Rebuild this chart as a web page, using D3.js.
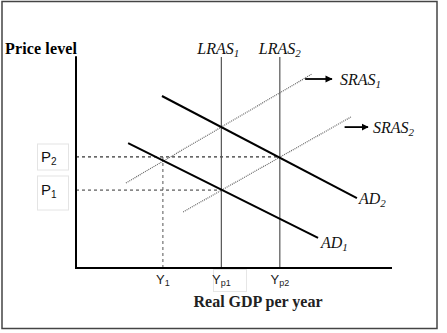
<!DOCTYPE html>
<html><head><meta charset="utf-8">
<script src="https://cdn.jsdelivr.net/npm/d3@7"></script>
<style>
body{margin:0;background:#fff;}
svg{display:block;}
.serif{font-family:"Liberation Serif","Times New Roman",serif;}
.sans{font-family:"Liberation Sans",Arial,sans-serif;}
</style></head>
<body>
<svg id="c" width="447" height="333"></svg>
<script>
// ---- data (abstract units: GDP 0-100, price 0-100) ----
const gdpLevels = {Y1: 27.5, Yp1: 46, Yp2: 64.5};
const priceLevels = {P1: 37.1, P2: 52.9};
const AD1 = [[16.5, 59.5], [76.6, 14.3]];
const AD2 = [[27.2, 81.9], [88.9, 33.3]];
const SRAS1 = [[15.8, 40.5], [74.7, 92.4]];
const SRAS2 = [[33.9, 26.7], [87.0, 71.9]];
const LRAS1 = [[46, 0], [46, 100.5]];
const LRAS2 = [[64.5, 0], [64.5, 100.5]];
const arrow1 = [[72.5, 90], [81, 90]];
const arrow2 = [[85, 67.1], [92.4, 67.1]];

const svg = d3.select("#c");
const x = d3.scaleLinear().domain([0, 100]).range([76, 392]);
const y = d3.scaleLinear().domain([0, 100]).range([268, 58]);
const line = d3.line().x(d => x(d[0])).y(d => y(d[1]));

svg.append("defs").append("marker")
  .attr("id", "ah").attr("viewBox", "0 0 10 10").attr("refX", 9).attr("refY", 5)
  .attr("markerWidth", 4).attr("markerHeight", 4).attr("orient", "auto")
  .append("path").attr("d", "M0,0 L10,5 L0,10 z").attr("fill", "#000");

// frame
svg.append("rect").attr("x", 2).attr("y", 1.5).attr("width", 435).attr("height", 327)
  .attr("fill", "none").attr("stroke", "#444").attr("stroke-width", 1.5);

// dashed guides
svg.append("path").attr("d", line([[0, priceLevels.P2], [gdpLevels.Yp2, priceLevels.P2]]))
  .attr("stroke", "#000").attr("stroke-width", 1).attr("stroke-dasharray", "3,3").attr("fill", "none");
svg.append("path").attr("d", line([[0, priceLevels.P1], [gdpLevels.Yp1, priceLevels.P1]]))
  .attr("stroke", "#333").attr("stroke-width", 1).attr("stroke-dasharray", "3,3").attr("fill", "none");
svg.append("path").attr("d", line([[gdpLevels.Y1, 0], [gdpLevels.Y1, priceLevels.P2]]))
  .attr("stroke", "#555").attr("stroke-width", 1).attr("stroke-dasharray", "3,3").attr("fill", "none");

// SRAS dotted
[SRAS1, SRAS2].forEach(s => svg.append("path").attr("d", line(s))
  .attr("stroke", "#666").attr("stroke-width", 1.2).attr("stroke-dasharray", "1,1").attr("fill", "none"));

// LRAS
[LRAS1, LRAS2].forEach(s => svg.append("path").attr("d", line(s))
  .attr("stroke", "#555").attr("stroke-width", 1.2).attr("fill", "none"));

// AD
[AD1, AD2].forEach(s => svg.append("path").attr("d", line(s))
  .attr("stroke", "#000").attr("stroke-width", 2).attr("fill", "none"));

// arrows
[arrow1, arrow2].forEach(s => svg.append("path").attr("d", line(s))
  .attr("stroke", "#000").attr("stroke-width", 1.8).attr("fill", "none").attr("marker-end", "url(#ah)"));

// axes
svg.append("path").attr("d", line([[0, 100.8], [0, 0], [100, 0]]))
  .attr("stroke", "#000").attr("stroke-width", 2).attr("fill", "none");

// text helpers
function sub(sel, main, s, subSize, dy) {
  sel.append("tspan").text(main);
  sel.append("tspan").text(s).attr("font-size", subSize).attr("dy", dy);
}
const serifIt = (tx, ty, main, s) => {
  const t = svg.append("text").attr("class", "serif").attr("x", tx).attr("y", ty)
    .attr("font-size", 16).attr("font-style", "italic").attr("fill", "#111");
  sub(t, main, s, 11, 3);
  return t;
};

svg.append("text").attr("class", "serif").attr("x", 5).attr("y", 54).attr("font-size", 16)
  .attr("font-weight", "bold").attr("textLength", 72).text("Price level");

serifIt(x(LRAS1[1][0]) - 24, 54, "LRAS", "1");
serifIt(x(LRAS2[1][0]) - 21, 54, "LRAS", "2");
serifIt(340, 85, "SRAS", "1");
serifIt(373, 133, "SRAS", "2");
serifIt(359, 204, "AD", "2");
serifIt(321, 248, "AD", "1");

// P boxes
[["P", "2", priceLevels.P2, 144, 26], ["P", "1", priceLevels.P1, 176, 34]].forEach(([m, s, v, top, h]) => {
  svg.append("rect").attr("x", 37.5).attr("y", top).attr("width", 31).attr("height", h)
    .attr("fill", "#fff").attr("stroke", "#e4e4e4").attr("stroke-width", 1);
  const t = svg.append("text").attr("class", "sans").attr("x", 41).attr("y", y(v) + 5)
    .attr("font-size", 15).attr("fill", "#111");
  sub(t, m, s, 10, 3);
});

// Y labels
svg.append("rect").attr("x", 213.5).attr("y", 269.5).attr("width", 33).attr("height", 22)
  .attr("fill", "#fff").attr("stroke", "#e6e6e6");
[["Y", "1", gdpLevels.Y1], ["Y", "p1", gdpLevels.Yp1], ["Y", "p2", gdpLevels.Yp2]].forEach(([m, s, v]) => {
  const t = svg.append("text").attr("class", "sans").attr("x", x(v)).attr("y", 284)
    .attr("text-anchor", "middle").attr("font-size", 13).attr("fill", "#222");
  sub(t, m, s, 9, 2);
});

svg.append("text").attr("class", "serif").attr("x", 258).attr("y", 307).attr("font-size", 16)
  .attr("font-weight", "bold").attr("text-anchor", "middle").attr("fill", "#222").text("Real GDP per year");
</script>
</body></html>
